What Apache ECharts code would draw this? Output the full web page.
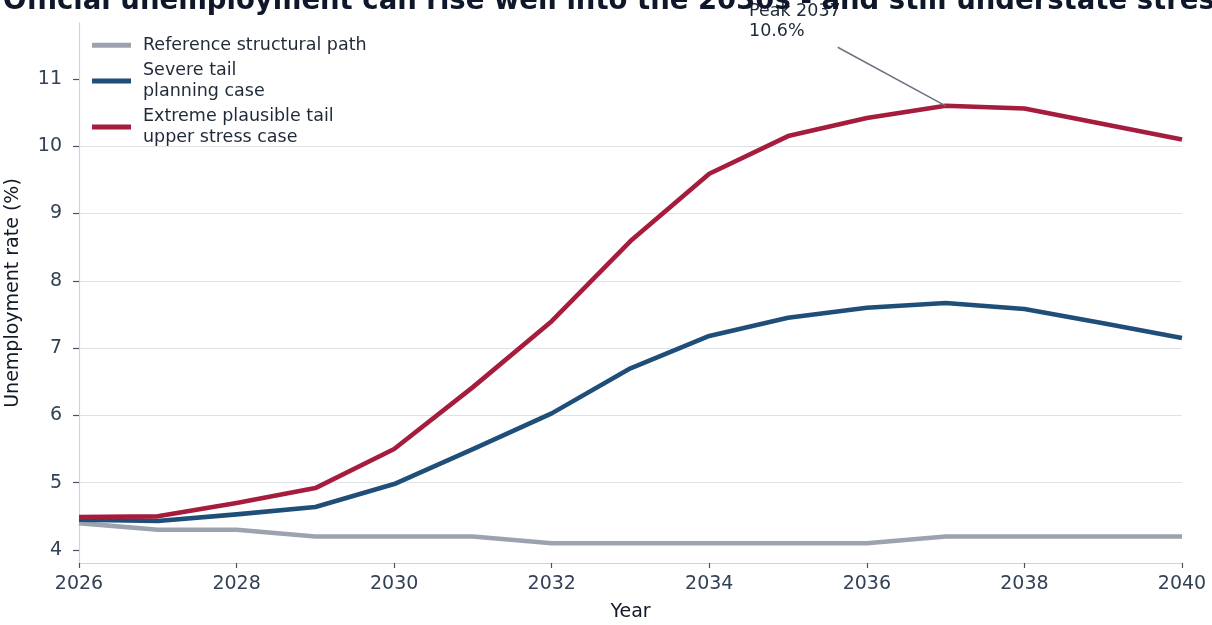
<!DOCTYPE html>
<html>
<head>
<meta charset="utf-8">
<script src="https://cdn.jsdelivr.net/npm/echarts@6/dist/echarts.min.js"></script>
<style>
  html, body { margin: 0; padding: 0; background: #ffffff; }
  #chart { width: 1212px; height: 625px; }
</style>
</head>
<body>
<div id="chart"></div>
<script>
// Unemployment rate paths, 2026-2040 (%)
const years = [2026, 2027, 2028, 2029, 2030, 2031, 2032, 2033, 2034, 2035, 2036, 2037, 2038, 2039, 2040];
const referencePath = [4.4, 4.3, 4.3, 4.2, 4.2, 4.2, 4.1, 4.1, 4.1, 4.1, 4.1, 4.2, 4.2, 4.2, 4.2];
const severeTail = [4.45, 4.43, 4.53, 4.64, 4.98, 5.50, 6.03, 6.70, 7.18, 7.45, 7.60, 7.67, 7.58, 7.37, 7.15];
const extremeTail = [4.49, 4.50, 4.70, 4.92, 5.50, 6.42, 7.40, 8.59, 9.59, 10.15, 10.42, 10.6, 10.56, 10.33, 10.10];

const seriesNames = ['Reference structural path', 'Severe tail\nplanning case', 'Extreme plausible tail\nupper stress case'];
const seriesColors = ['#9ca3af', '#1f4e79', '#a51c3d'];

const xTicks = [2026, 2028, 2030, 2032, 2034, 2036, 2038, 2040];
const yTicks = [4, 5, 6, 7, 8, 9, 10, 11];

// Peak annotation on the extreme tail path
const peakIndex = extremeTail.indexOf(Math.max(...extremeTail));
const peakYear = years[peakIndex];
const peakValue = extremeTail[peakIndex];
const peakText = 'Peak ' + peakYear + '\n' + peakValue.toFixed(1) + '%';
const leaderStart = [2035.63, 11.47];

const FONT = "'DejaVu Sans', 'Liberation Sans', sans-serif";
const AXIS_TEXT = '#334155';

const toPairs = arr => years.map((y, i) => [y, arr[i]]);

const chart = echarts.init(document.getElementById('chart'), null, { renderer: 'canvas' });

const lineSeries = [referencePath, severeTail, extremeTail].map((arr, i) => ({
  name: seriesNames[i],
  type: 'line',
  data: toPairs(arr),
  symbol: 'none',
  showSymbol: false,
  lineStyle: { color: seriesColors[i], width: 4.6, cap: 'butt', join: 'round' },
  itemStyle: { color: seriesColors[i] },
  z: 2 + i,
  silent: true
}));

// leader line from the annotation text to the peak point
lineSeries[2].markLine = {
  silent: true,
  symbol: ['none', 'none'],
  label: { show: false },
  lineStyle: { color: '#6b7280', width: 1.5, type: 'solid' },
  emphasis: { disabled: true },
  data: [[{ coord: leaderStart }, { coord: [peakYear, peakValue] }]]
};

chart.setOption({
  animation: false,
  backgroundColor: '#ffffff',
  textStyle: { fontFamily: FONT },
  grid: { left: 79, right: 30, top: 23, bottom: 62, outerBoundsMode: 'none', containLabel: false },
  legend: {
    show: true,
    orient: 'vertical',
    left: 87,
    top: 30,
    itemWidth: 39,
    itemHeight: 5,
    itemGap: 5,
    icon: 'rect',
    selectedMode: false,
    data: seriesNames,
    textStyle: {
      fontFamily: FONT,
      fontSize: 17.5,
      lineHeight: 20.5,
      color: '#1f2937',
      padding: [0, 0, 0, 7]
    }
  },
  xAxis: {
    type: 'value',
    min: 2026,
    max: 2040,
    interval: 2,
    name: 'Year',
    nameLocation: 'middle',
    nameGap: 40,
    nameTextStyle: { fontFamily: FONT, fontSize: 19, color: '#111827' },
    axisLine: { show: true, lineStyle: { color: '#cbd5e1', width: 1.2 } },
    axisTick: { show: true, length: 5, lineStyle: { color: '#475569', width: 1.2 } },
    axisLabel: {
      fontFamily: FONT, fontSize: 19, color: AXIS_TEXT, margin: 12,
      customValues: xTicks,
      formatter: v => String(v)
    },
    splitLine: { show: false }
  },
  yAxis: {
    type: 'value',
    min: 3.807,
    max: 11.83,
    name: 'Unemployment rate (%)',
    nameLocation: 'middle',
    nameGap: 56,
    nameRotate: 90,
    nameTextStyle: { fontFamily: FONT, fontSize: 19, color: '#111827' },
    axisLine: { show: true, lineStyle: { color: '#cbd5e1', width: 1.2 } },
    axisTick: { show: true, length: 6, customValues: yTicks, lineStyle: { color: '#475569', width: 1.2 } },
    axisLabel: {
      fontFamily: FONT, fontSize: 19, color: AXIS_TEXT, margin: 17,
      customValues: yTicks,
      formatter: v => String(v)
    },
    splitLine: {
      show: true,
      showMinLine: false,
      showMaxLine: false,
      lineStyle: { color: '#dfe3e8', width: 1.2 }
    }
  },
  series: lineSeries,
  graphic: [
    {
      type: 'text',
      left: 749,
      top: 1,
      z: 10,
      silent: true,
      style: {
        text: peakText,
        font: '17.5px ' + FONT,
        lineHeight: 20,
        fill: '#1f2937'
      }
    },
    {
      type: 'text',
      x: 3,
      y: -12,
      z: 20,
      silent: true,
      style: {
        text: 'Official unemployment can rise well into the 2030s - and still understate stress',
        font: 'bold 27.5px ' + FONT,
        lineHeight: 27.5,
        fill: '#0f172a',
        verticalAlign: 'top'
      }
    }
  ]
});
</script>
</body>
</html>
